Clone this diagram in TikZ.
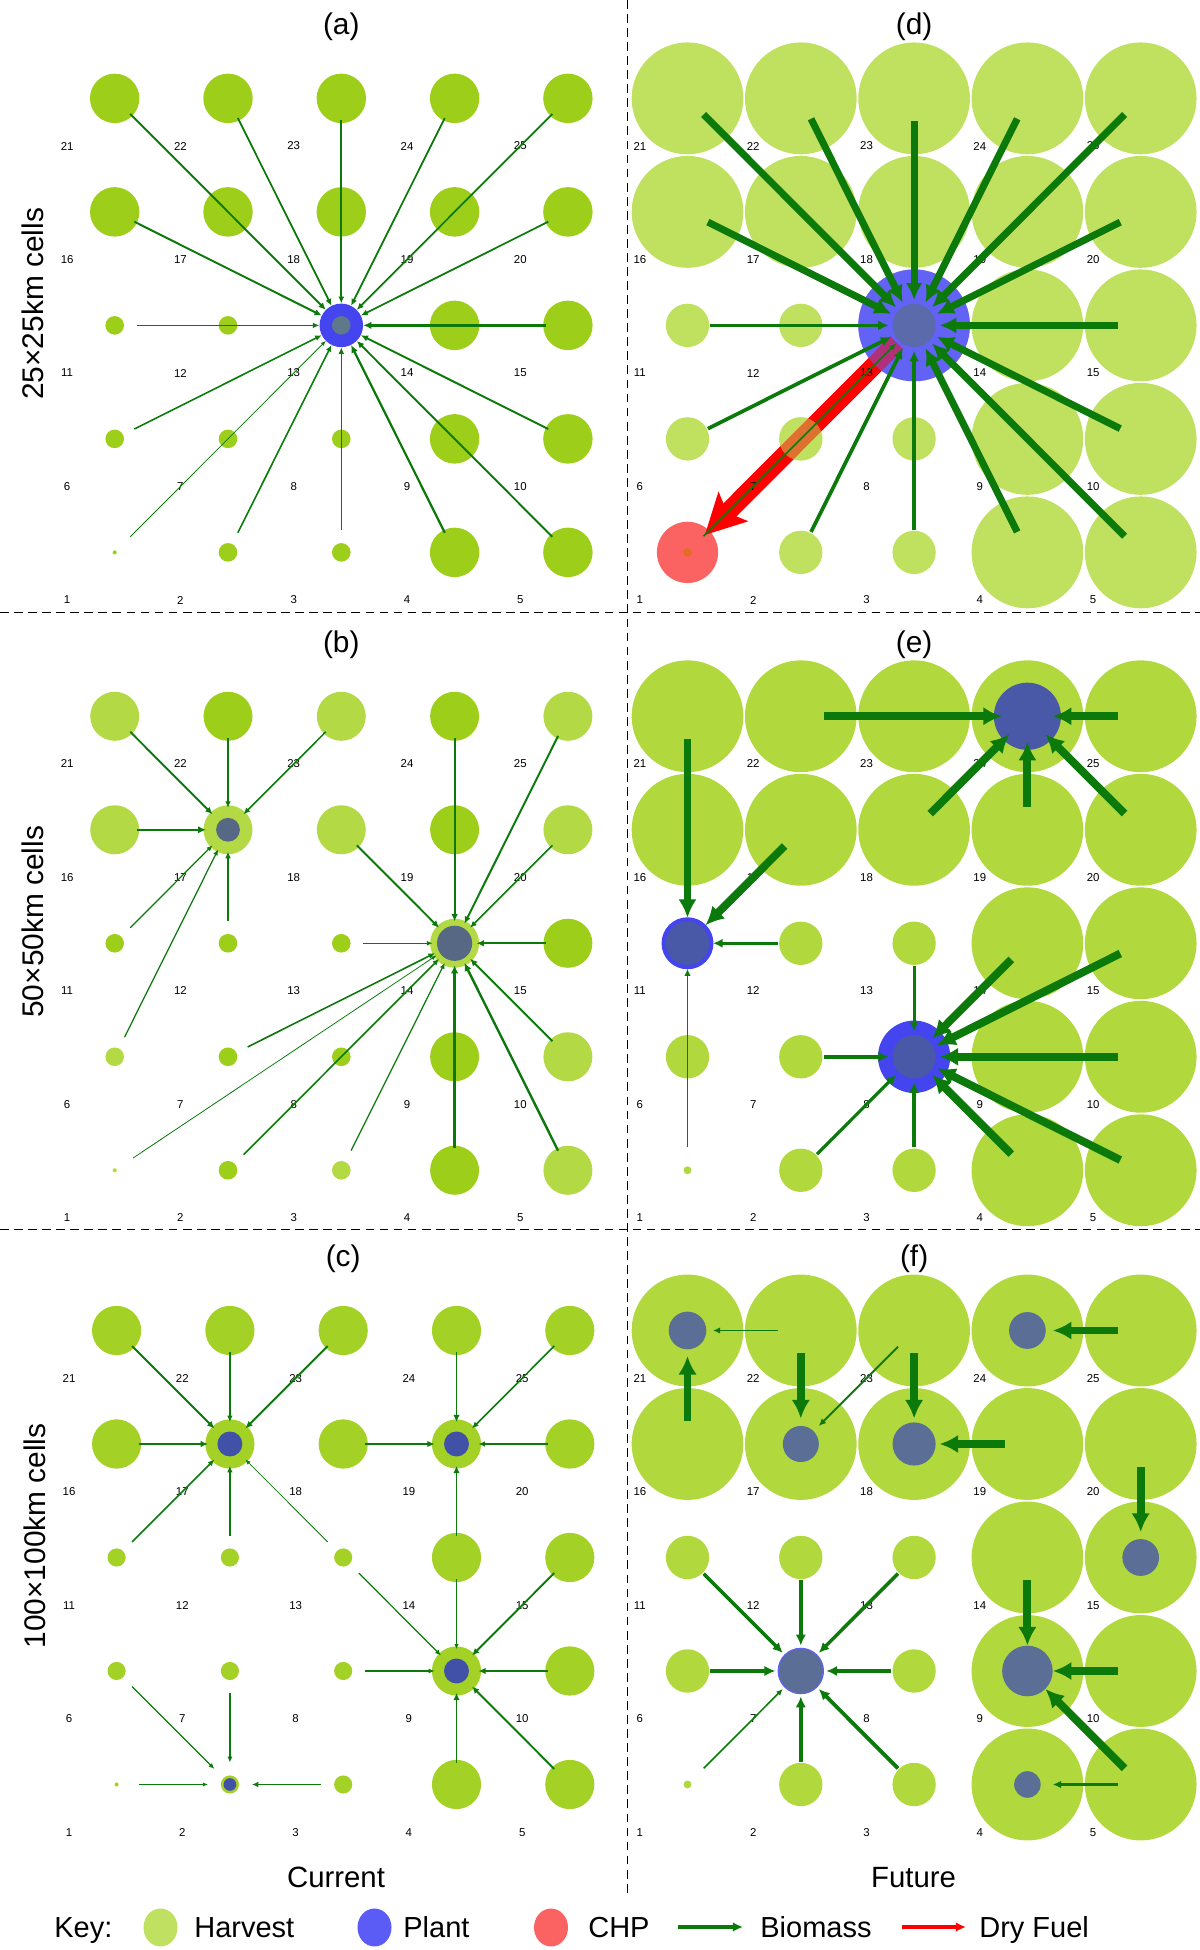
\documentclass[tikz,border=0pt]{standalone}
\usepackage{fontspec}
\setmainfont{Liberation Sans}
\usetikzlibrary{arrows.meta, shapes.geometric}

\definecolor{harva}{HTML}{9DCE1A}
\definecolor{harvb}{HTML}{B3D944}
\definecolor{harvc}{HTML}{A3D126}
\definecolor{harvd}{HTML}{C0E060}
\definecolor{harve}{HTML}{B1D83C}
\definecolor{plantring}{HTML}{4545F0}
\definecolor{plantringd}{HTML}{6262F5}
\definecolor{corea}{HTML}{5F788A}
\definecolor{coreb}{HTML}{566883}
\definecolor{corec}{HTML}{4151A8}
\definecolor{cored}{HTML}{5A6AAA}
\definecolor{coree}{HTML}{4A58A8}
\definecolor{coref}{HTML}{5A6E96}
\definecolor{chpred}{HTML}{FB6262}
\definecolor{chpdot}{HTML}{E07020}
\definecolor{biogreen}{HTML}{0B7A0B}
\definecolor{fuelred}{HTML}{FF0000}
\definecolor{keyharv}{HTML}{BFE060}
\definecolor{keyplant}{HTML}{5B5BF5}

\tikzset{
  cellnum/.style={font=\fontsize{6.5}{7}\selectfont, inner sep=0pt},
  paneltitle/.style={font=\fontsize{17}{20}\selectfont, inner sep=0pt},
  rowtitle/.style={font=\fontsize{17}{20}\selectfont, rotate=90, inner sep=0pt},
  bigtext/.style={font=\fontsize{16.7}{20}\selectfont, inner sep=0pt, anchor=base},
  keytext/.style={font=\fontsize{16.5}{20}\selectfont, inner sep=0pt, anchor=base west},
  keydot/.style={ellipse, minimum width=0.68cm, minimum height=0.76cm, inner sep=0pt},
  bio/.style={draw=biogreen, line width=#1, -{Latex[length=2pt 1.9, width=1.5pt 2]}},
  bioleft/.style={bio=#1, shorten <=12.5pt, shorten >=12.5pt},
  bioright/.style={bio=#1, shorten <=13pt, shorten >=14.5pt},
  dryfuel/.style={draw=fuelred, line width=10.5pt, -{Stealth[length=23pt, width=24pt, inset=5pt, line width=0pt]}, shorten <=14pt, shorten >=14pt},
  keyfuel/.style={draw=fuelred, line width=2pt, -{Latex[length=2pt 1.9, width=1.5pt 2]}},
  divider/.style={line width=1.1pt, dash pattern=on 5pt off 3pt}
}

\newcommand{\cellgrid}[1]{%
  \foreach \n in {1,...,25}{%
    \pgfmathtruncatemacro{\cellc}{mod(\n-1,5)+1}%
    \pgfmathtruncatemacro{\cellr}{(\n-1)/5+1}%
    \coordinate (#1\n) at (\cellc,\cellr);%
  }}
\newcommand{\cellnums}[1]{%
  \foreach \n in {1,...,25}{%
    \pgfmathtruncatemacro{\cellc}{mod(\n-1,5)+1}%
    \pgfmathtruncatemacro{\cellr}{(\n-1)/5+1}%
    \node (#1n\n) [cellnum] at (\cellc-0.42,\cellr-0.42) {\n};%
  }}

\begin{document}
\begin{tikzpicture}
\useasboundingbox (0,0) rectangle (24,39);

\draw[divider] (0,26.75) -- (24,26.75);
\draw[divider] (0,14.41) -- (24,14.41);
\draw[divider] (12.55,39) -- (12.55,1.14);

% (a)
\begin{scope}[shift={(0.028,25.682)}, x=2.266cm, y=2.27cm]
\cellgrid{a}
\foreach \n in {4,5,9,10,14,15,16,17,18,19,20,21,22,23,24,25} \fill[harva] (a\n) circle (0.218);
\foreach \n in {2,3,6,7,8,11,12,13} \fill[harva] (a\n) circle (0.082);
\fill[harva] (a1) circle (0.018);
\fill[plantring] (a13) circle (0.192);
\fill[corea] (a13) circle (0.082);
\cellnums{a}
\foreach \s/\w in {21/1.1pt, 22/1pt, 23/1pt, 24/1pt, 25/1pt, 16/1.1pt, 20/1pt, 11/0.9pt, 15/1.35pt, 6/0.9pt, 10/1.1pt, 1/0.45pt, 2/0.9pt, 3/0.9pt, 4/1.25pt, 5/1.1pt}
  \draw[bioleft=\w] (a\s) -- (a13);
\node (title-a) [paneltitle] at (3,5.63) {(a)};
\node (rows-a) [rowtitle] at (0.275,3.19) {25×25km cells};
\end{scope}

% (b)
\begin{scope}[shift={(0.028,13.324)}, x=2.266cm, y=2.27cm]
\cellgrid{b}
\foreach \n in {22,24,19,15,9,4} \fill[harva] (b\n) circle (0.216);
\foreach \n in {11,12,13,7,8,2} \fill[harva] (b\n) circle (0.082);
\foreach \n in {21,23,25,16,17,18,20,14,10,5} \fill[harvb] (b\n) circle (0.216);
\foreach \n in {6,3} \fill[harvb] (b\n) circle (0.082);
\fill[harvb] (b1) circle (0.018);
\fill[coreb] (b17) circle (0.105);
\fill[coreb] (b14) circle (0.155);
\cellnums{b}
\foreach \s/\t/\w in {21/17/1.1pt, 22/17/0.9pt, 23/17/0.9pt, 16/17/1.35pt, 11/17/0.7pt, 6/17/0.7pt, 12/17/0.9pt,
    24/14/1.1pt, 25/14/1.1pt, 20/14/0.9pt, 18/14/1.1pt, 13/14/0.7pt, 15/14/1.1pt, 10/14/1.1pt, 5/14/1.35pt,
    4/14/1.35pt, 3/14/0.7pt, 2/14/0.9pt, 7/14/0.9pt, 1/14/0.45pt}
  \draw[bioleft=\w] (b\s) -- (b\t);
\node (title-b) [paneltitle] at (3,5.63) {(b)};
\node (rows-b) [rowtitle] at (0.275,3.19) {50×50km cells};
\end{scope}

% (c)
\begin{scope}[shift={(0.066,1.04)}, x=2.266cm, y=2.27cm]
\cellgrid{c}
\foreach \n in {4,5,9,10,14,15,16,17,18,19,20,21,22,23,24,25} \fill[harvc] (c\n) circle (0.217);
\foreach \n in {2,3,6,7,8,11,12,13} \fill[harvc] (c\n) circle (0.080);
\fill[harvc] (c1) circle (0.018);
\foreach \n in {17,19,9} \fill[corec] (c\n) circle (0.110);
\fill[corec] (c2) circle (0.056);
\cellnums{c}
\foreach \s/\t/\w in {21/17/1.1pt, 22/17/0.9pt, 23/17/1.1pt, 16/17/1.1pt, 11/17/0.9pt, 12/17/0.9pt, 13/17/0.45pt,
    24/19/1.1pt, 25/19/0.9pt, 18/19/1.1pt, 20/19/0.9pt, 14/19/1.1pt,
    14/9/0.45pt, 15/9/1.1pt, 10/9/1.1pt, 8/9/0.7pt, 13/9/0.7pt, 4/9/1.1pt, 5/9/1.1pt,
    6/2/0.7pt, 7/2/0.7pt, 1/2/0.45pt, 3/2/0.9pt}
  \draw[bioleft=\w] (c\s) -- (c\t);
\node (title-c) [paneltitle] at (3,5.63) {(c)};
\node (rows-c) [rowtitle] at (0.275,3.19) {100×100km cells};
\end{scope}

% (d)
\begin{scope}[shift={(11.484,25.682)}, x=2.266cm, y=2.27cm]
\cellgrid{d}
\foreach \n in {4,5,9,10,14,15,16,17,18,19,20,21,22,23,24,25} \fill[harvd] (d\n) circle (0.493);
\foreach \n in {2,3,6,7,8,11,12,13} \fill[harvd] (d\n) circle (0.191);
\fill[chpred] (d1) circle (0.27);
\fill[chpdot] (d1) circle (0.038);
\fill[plantringd] (d13) circle (0.493);
\fill[cored] (d13) circle (0.191);
\draw[dryfuel] (d13) -- (d1);
\fill[harvd, opacity=0.5] (d7) circle (0.191);
\fill[plantringd, opacity=0.5, even odd rule] (d13) circle (0.493) (d13) circle (0.191);
\cellnums{d}
\foreach \s/\w in {21/4pt, 22/4pt, 23/4pt, 24/4pt, 25/4pt, 16/4pt, 20/4pt, 15/4pt, 10/4pt, 5/4pt, 4/4pt,
    11/2.1pt, 6/2.1pt, 2/2.1pt, 3/2.1pt, 1/0.9pt}
  \draw[bioright=\w] (d\s) -- (d13);
\node (title-d) [paneltitle] at (3,5.63) {(d)};
\end{scope}

% (e)
\begin{scope}[shift={(11.484,13.324)}, x=2.266cm, y=2.27cm]
\cellgrid{e}
\foreach \n in {4,5,9,10,14,15,16,17,18,19,20,21,22,23,24,25} \fill[harve] (e\n) circle (0.493);
\foreach \n in {2,3,6,7,8,11,12,13} \fill[harve] (e\n) circle (0.191);
\fill[harve] (e1) circle (0.035);
\fill[coree] (e24) circle (0.296);
\fill[plantring] (e11) circle (0.229);
\fill[plantring] (e8) circle (0.319);
\foreach \n in {11,8} \fill[coree] (e\n) circle (0.191);
\cellnums{e}
\foreach \s/\t/\w in {22/24/4.5pt, 25/24/4.5pt, 18/24/4.5pt, 19/24/4.5pt, 20/24/4.5pt,
    21/11/4.5pt, 17/11/4.5pt, 12/11/1.8pt, 1/11/1.1pt,
    13/8/1.6pt, 7/8/2pt, 14/8/4.5pt, 15/8/4.5pt, 10/8/4.5pt, 5/8/4.5pt, 4/8/4.5pt, 3/8/2.2pt, 2/8/1.8pt}
  \draw[bioright=\w] (e\s) -- (e\t);
\node (title-e) [paneltitle] at (3,5.63) {(e)};
\end{scope}

% (f)
\begin{scope}[shift={(11.484,1.04)}, x=2.266cm, y=2.27cm]
\cellgrid{f}
\foreach \n in {4,5,9,10,14,15,16,17,18,19,20,21,22,23,24,25} \fill[harve] (f\n) circle (0.493);
\foreach \n in {2,3,6,7,8,11,12,13} \fill[harve] (f\n) circle (0.191);
\fill[harve] (f1) circle (0.035);
\foreach \n/\r in {21/0.166, 24/0.162, 17/0.159, 18/0.19, 15/0.162, 9/0.223, 4/0.117}
  \fill[coref] (f\n) circle (\r);
\fill[plantringd] (f7) circle (0.205);
\fill[coref] (f7) circle (0.194);
\cellnums{f}
\foreach \s/\t/\w in {22/21/1.1pt, 16/21/4.5pt, 22/17/4.5pt, 23/17/1.1pt, 23/18/4.5pt, 19/18/4.5pt,
    25/24/4.5pt, 20/15/4.5pt, 14/9/4.5pt, 10/9/4.5pt, 5/9/4.5pt, 5/4/1.4pt,
    11/7/2pt, 12/7/2.2pt, 13/7/2pt, 6/7/2.2pt, 8/7/2.2pt, 1/7/0.9pt, 2/7/2.2pt, 3/7/2.2pt}
  \draw[bioright=\w] (f\s) -- (f\t);
\node (title-f) [paneltitle] at (3,5.63) {(f)};
\end{scope}

\node (current) [bigtext] at (6.72,1.25) {Current};
\node (future) [bigtext] at (18.27,1.25) {Future};

\node (keylabel) [keytext] at (1.08,0.25) {Key:};
\node (keyharv) [keydot, fill=keyharv] at (3.21,0.45) {};
\node (keyharvtxt) [keytext] at (3.88,0.25) {Harvest};
\node (keyplant) [keydot, fill=keyplant] at (7.49,0.45) {};
\node (keyplanttxt) [keytext] at (8.06,0.25) {Plant};
\node (keychp) [keydot, fill=chpred] at (11.02,0.45) {};
\node (keychptxt) [keytext] at (11.76,0.25) {CHP};
\coordinate (keybioa) at (13.56,0.46);
\coordinate (keybiob) at (14.86,0.46);
\draw[bio=2pt] (keybioa) -- (keybiob);
\node (keybiotxt) [keytext] at (15.2,0.25) {Biomass};
\coordinate (keyfuela) at (18.04,0.46);
\coordinate (keyfuelb) at (19.32,0.46);
\draw[keyfuel] (keyfuela) -- (keyfuelb);
\node (keyfueltxt) [keytext] at (19.58,0.25) {Dry Fuel};
\end{tikzpicture}
\end{document}
